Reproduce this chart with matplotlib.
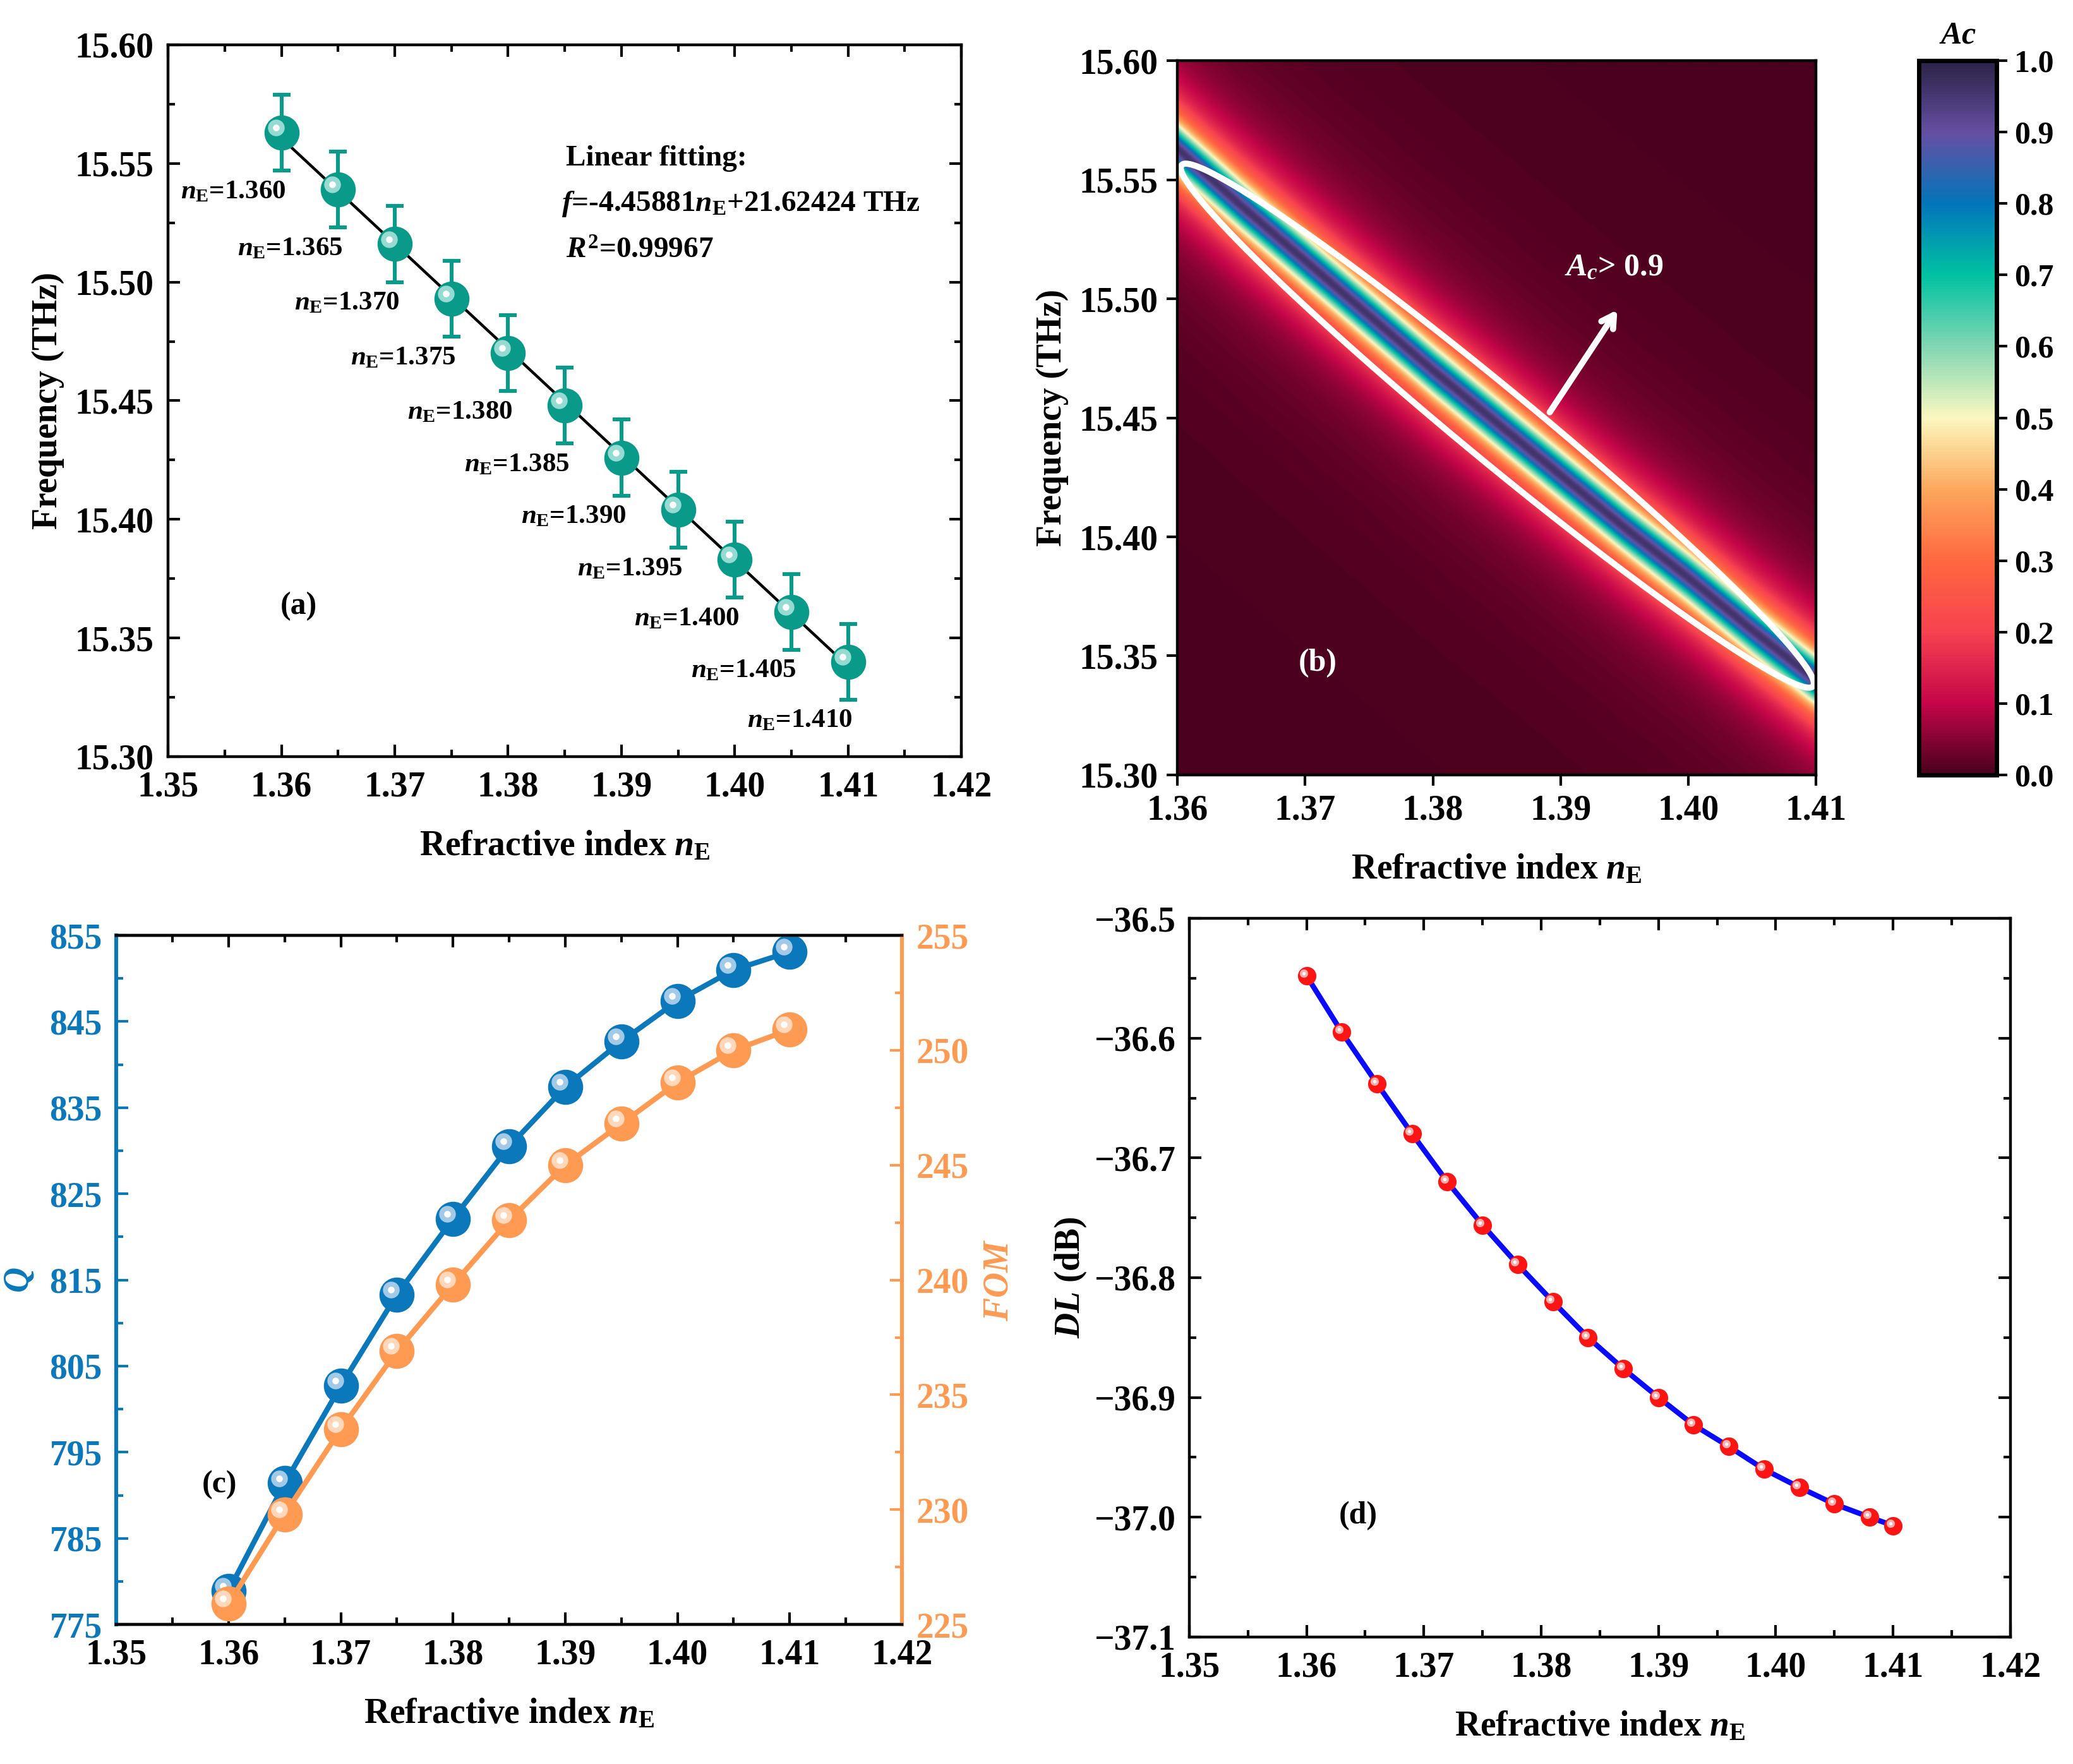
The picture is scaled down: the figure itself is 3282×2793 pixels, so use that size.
import numpy as np
import matplotlib

matplotlib.use("Agg")

import matplotlib.pyplot as plt
from matplotlib import transforms
from matplotlib.colors import LinearSegmentedColormap
from matplotlib.ticker import MultipleLocator, FormatStrFormatter, FuncFormatter

plt.rcParams["font.family"] = ["Liberation Serif", "DejaVu Serif"]
plt.rcParams["font.weight"] = "bold"
plt.rcParams["axes.labelweight"] = "bold"
plt.rcParams["mathtext.fontset"] = "custom"
plt.rcParams["mathtext.rm"] = "Liberation Serif:bold"
plt.rcParams["mathtext.it"] = "Liberation Serif:italic:bold"
plt.rcParams["mathtext.bf"] = "Liberation Serif:bold"

# (a) resonance frequency vs refractive index
n_E = [1.360, 1.365, 1.370, 1.375, 1.380, 1.385, 1.390, 1.395, 1.400, 1.405, 1.410]
freq = [15.563, 15.539, 15.516, 15.493, 15.470, 15.448, 15.426, 15.404, 15.383, 15.361, 15.340]
freq_err = [0.016, 0.016, 0.016, 0.016, 0.016, 0.016, 0.016, 0.016, 0.016, 0.016, 0.016]
n_labels = ["1.360", "1.365", "1.370", "1.375", "1.380", "1.385",
            "1.390", "1.395", "1.400", "1.405", "1.410"]

# (b) absorption map: ridge follows freq, Lorentzian half width in THz
ac_halfwidth = 0.0105
ac_peak = 0.96
ac_ticks = [0.0, 0.1, 0.2, 0.3, 0.4, 0.5, 0.6, 0.7, 0.8, 0.9, 1.0]
ac_colors = ["#4a001e", "#c60649", "#f7424f", "#ff6840", "#fca85c", "#fbf8bf",
             "#82d6b4", "#00c2a2", "#0276ba", "#654fa3", "#2b2347"]

# (c) Q factor and FOM
q_factor = [778.9, 791.4, 802.7, 813.3, 822.1, 830.5, 837.4, 842.7, 847.4, 851.0, 853.1]
fom = [225.9, 229.8, 233.5, 236.9, 239.8, 242.6, 245.0, 246.8, 248.6, 250.0, 250.9]
q_ticks = [775, 785, 795, 805, 815, 825, 835, 845, 855]

# (d) detection limit
dl_n = [1.360, 1.363, 1.366, 1.369, 1.372, 1.375, 1.378, 1.381, 1.384,
        1.387, 1.390, 1.393, 1.396, 1.399, 1.402, 1.405, 1.408, 1.410]
dl_db = [-36.548, -36.595, -36.638, -36.680, -36.720, -36.756, -36.789, -36.820, -36.850,
         -36.876, -36.900, -36.923, -36.941, -36.960, -36.975, -36.989, -37.000, -37.007]

TEAL = "#0a9a8a"
BLUE = "#0a78bb"
ORANGE = "#ff9a52"
RED = "#ff1414"
FS = 20
XLABEL = r"Refractive index $n_\mathrm{E}$"


def minus_fmt(fmt):
    """Format ticks with a real minus sign."""
    return FuncFormatter(lambda v, pos: (fmt % v).replace("-", "\u2212"))


def style_inner_ticks(ax):
    ax.tick_params(which="both", direction="in", top=True, right=True,
                   width=1.5, labelsize=FS, pad=8)
    ax.tick_params(which="major", length=7)
    ax.tick_params(which="minor", length=4)
    for spine in ax.spines.values():
        spine.set_linewidth(1.6)


def sphere_markers(ax, x, y, color, light, ms, zorder=4):
    """Filled circles with a small highlight, like a shaded ball."""
    ax.plot(x, y, "o", ms=ms, color=color, mec=color, ls="none", zorder=zorder)
    shift = transforms.offset_copy(ax.transData, fig=ax.figure,
                                   x=-ms * 0.17, y=ms * 0.15, units="points")
    ax.plot(x, y, "o", ms=ms * 0.5, color=light, mec="none", ls="none",
            transform=shift, zorder=zorder + 0.1, alpha=0.9)
    ax.plot(x, y, "o", ms=ms * 0.2, color="white", mec="none", ls="none",
            transform=shift, zorder=zorder + 0.2)


fig = plt.figure(figsize=(16.41, 13.965), dpi=200)

# ---------------- (a) ----------------
ax_a = fig.add_axes([0.0811, 0.5711, 0.3827, 0.4035])
slope, intercept = np.polyfit(n_E, freq, 1)
ax_a.plot(n_E, np.polyval([slope, intercept], n_E), color="black", lw=1.6, zorder=2)
ax_a.errorbar(n_E, freq, yerr=freq_err, fmt="none", ecolor=TEAL, elinewidth=2.2,
              capsize=5, capthick=2.2, zorder=3)
sphere_markers(ax_a, n_E, freq, TEAL, "#a6e3da", 19)
for x, y, lab in zip(n_E, freq, n_labels):
    ax_a.text(x + 0.0004, y - 0.025, r"$n_\mathrm{E}$=" + lab, fontsize=15.5,
              ha="right", va="center")
ax_a.text(1.3851, 15.552, "Linear fitting:", fontsize=17, va="center")
ax_a.text(1.3847, 15.533, r"$f$=-4.45881$n_\mathrm{E}$+21.62424 THz", fontsize=17,
          va="center")
ax_a.text(1.3851, 15.513, r"$R^2$=0.99967", fontsize=17, va="center")
ax_a.text(1.3615, 15.3634, "(a)", fontsize=18, ha="center", va="center")
ax_a.set_xlim(1.35, 1.42)
ax_a.set_ylim(15.30, 15.60)
ax_a.xaxis.set_major_locator(MultipleLocator(0.01))
ax_a.xaxis.set_minor_locator(MultipleLocator(0.005))
ax_a.yaxis.set_major_locator(MultipleLocator(0.05))
ax_a.yaxis.set_minor_locator(MultipleLocator(0.025))
ax_a.xaxis.set_major_formatter(FormatStrFormatter("%.2f"))
ax_a.yaxis.set_major_formatter(FormatStrFormatter("%.2f"))
style_inner_ticks(ax_a)
ax_a.set_xlabel(XLABEL, fontsize=FS, labelpad=15)
ax_a.set_ylabel("Frequency (THz)", fontsize=FS, labelpad=6)

# ---------------- (b) ----------------
ax_b = fig.add_axes([0.5680, 0.5607, 0.3080, 0.4049])
cmap = LinearSegmentedColormap.from_list("ac", list(zip(ac_ticks, ac_colors)))
n_grid = np.linspace(1.36, 1.41, 500)
f_grid = np.linspace(15.30, 15.60, 900)
ridge = np.interp(n_grid, n_E, freq)
detune = (f_grid[:, None] - ridge[None, :]) / ac_halfwidth
ac_map = ac_peak / (1.0 + detune ** 2)
im = ax_b.imshow(ac_map, extent=[1.36, 1.41, 15.30, 15.60], origin="lower",
                 aspect="auto", cmap=cmap, vmin=0, vmax=1, interpolation="bilinear")

# white ellipse around the Ac > 0.9 band
ell_c = (1.38505, 15.4467)
ell_a = (0.02479, -0.1083)
ell_b = 0.0195
t = np.linspace(0, 2 * np.pi, 500)
ax_b.plot(ell_c[0] + ell_a[0] * np.cos(t),
          ell_c[1] + ell_a[1] * np.cos(t) + ell_b * np.sin(t),
          color="white", lw=3.5)
ax_b.annotate("", xy=(1.3946, 15.4966), xytext=(1.3890, 15.4511),
              arrowprops=dict(arrowstyle="->,head_length=0.7,head_width=0.4",
                              color="white", lw=3.5))
ax_b.text(1.3903, 15.513, r"$A_c$> 0.9", fontsize=18, color="white", va="center")
ax_b.text(1.3710, 15.347, "(b)", fontsize=18, color="white", ha="center", va="center")
ax_b.set_xlim(1.36, 1.41)
ax_b.set_ylim(15.30, 15.60)
ax_b.set_xticks([1.36, 1.37, 1.38, 1.39, 1.40, 1.41])
ax_b.set_yticks([15.30, 15.35, 15.40, 15.45, 15.50, 15.55, 15.60])
ax_b.xaxis.set_major_formatter(FormatStrFormatter("%.2f"))
ax_b.yaxis.set_major_formatter(FormatStrFormatter("%.2f"))
ax_b.tick_params(direction="out", length=6, width=1.5, labelsize=FS, pad=5)
for spine in ax_b.spines.values():
    spine.set_linewidth(1.6)
ax_b.set_xlabel(XLABEL, fontsize=FS, labelpad=15)
ax_b.set_ylabel("Frequency (THz)", fontsize=FS, labelpad=6)

cax = fig.add_axes([0.9257, 0.5607, 0.0375, 0.4049])
cb = fig.colorbar(im, cax=cax, ticks=ac_ticks)
cb.ax.yaxis.set_major_formatter(FormatStrFormatter("%.1f"))
cb.ax.tick_params(direction="out", length=6, width=1.5, labelsize=18, pad=4)
cb.outline.set_linewidth(2.5)
cax.set_title(r"$Ac$", fontsize=18, pad=10)

# ---------------- (c) ----------------
ax_c = fig.add_axes([0.0561, 0.0791, 0.3790, 0.3906])
ax_f = ax_c.twinx()
ax_c.plot(n_E, q_factor, color=BLUE, lw=3, zorder=3)
sphere_markers(ax_c, n_E, q_factor, BLUE, "#b4d4ec", 19)
ax_f.plot(n_E, fom, color=ORANGE, lw=3, zorder=3)
sphere_markers(ax_f, n_E, fom, ORANGE, "#ffe0c8", 19)
ax_c.text(1.3592, 791.2, "(c)", fontsize=18, ha="center", va="center")
ax_c.set_xlim(1.35, 1.42)
ax_c.set_ylim(775, 855)
ax_f.set_ylim(225, 255)
ax_c.xaxis.set_major_locator(MultipleLocator(0.01))
ax_c.xaxis.set_minor_locator(MultipleLocator(0.005))
ax_c.xaxis.set_major_formatter(FormatStrFormatter("%.2f"))
ax_c.set_yticks(q_ticks)
ax_c.yaxis.set_minor_locator(MultipleLocator(5))
ax_f.yaxis.set_major_locator(MultipleLocator(5))
ax_f.yaxis.set_minor_locator(MultipleLocator(2.5))
for axis in (ax_c, ax_f):
    axis.tick_params(which="both", direction="in", width=1.5, labelsize=FS, pad=8)
    axis.tick_params(which="major", length=7)
    axis.tick_params(which="minor", length=4)
    for spine in axis.spines.values():
        spine.set_linewidth(1.6)
ax_c.tick_params(which="both", top=True, right=False)
ax_c.tick_params(axis="y", which="both", colors=BLUE)
ax_f.tick_params(axis="y", which="both", colors=ORANGE)
ax_c.spines["left"].set_color(BLUE)
ax_c.spines["left"].set_linewidth(2.2)
ax_c.spines["right"].set_visible(False)
ax_f.spines["left"].set_visible(False)
ax_f.spines["right"].set_color(ORANGE)
ax_f.spines["right"].set_linewidth(2.2)
ax_c.set_xlabel(XLABEL, fontsize=FS, labelpad=15)
ax_c.set_ylabel(r"$Q$", fontsize=FS, color=BLUE, labelpad=8)
ax_f.set_ylabel(r"$FOM$", fontsize=FS, color=ORANGE, labelpad=8)

# ---------------- (d) ----------------
ax_d = fig.add_axes([0.5737, 0.0720, 0.3961, 0.4074])
ax_d.plot(dl_n, dl_db, color="#0a0aff", lw=3, zorder=3)
sphere_markers(ax_d, dl_n, dl_db, RED, "#ffc0c0", 9.5)
ax_d.text(1.3644, -36.999, "(d)", fontsize=18, ha="center", va="center")
ax_d.set_xlim(1.35, 1.42)
ax_d.set_ylim(-37.1, -36.5)
ax_d.xaxis.set_major_locator(MultipleLocator(0.01))
ax_d.xaxis.set_minor_locator(MultipleLocator(0.005))
ax_d.yaxis.set_major_locator(MultipleLocator(0.1))
ax_d.yaxis.set_minor_locator(MultipleLocator(0.05))
ax_d.xaxis.set_major_formatter(FormatStrFormatter("%.2f"))
ax_d.yaxis.set_major_formatter(minus_fmt("%.1f"))
style_inner_ticks(ax_d)
ax_d.set_xlabel(XLABEL, fontsize=FS, labelpad=15)
ax_d.set_ylabel(r"$DL$ (dB)", fontsize=FS, labelpad=3)

fig.savefig("out.png", dpi=200)
